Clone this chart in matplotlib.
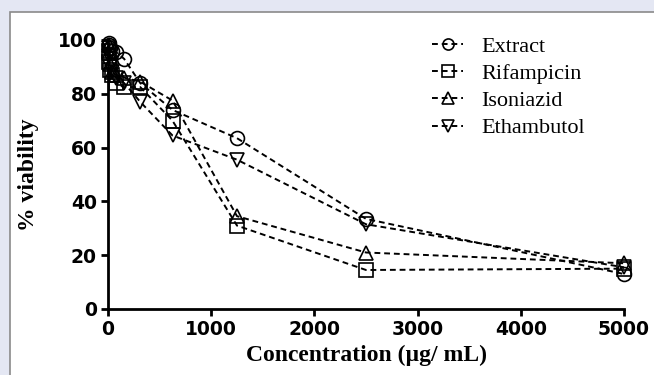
import matplotlib
matplotlib.use("Agg")
import matplotlib.pyplot as plt
from matplotlib.patches import Rectangle

conc = [4.88, 9.77, 19.53, 39.06, 78.13, 156.25, 312.5, 625, 1250, 2500, 5000]
extract = [99, 98, 97, 96, 95.5, 93, 84, 74, 63.5, 33.5, 13]
rifampicin = [96, 92, 89, 87, 84, 82.5, 82.5, 70, 31, 14.5, 15]
isoniazid = [98, 95, 91, 88, 87, 86, 84.5, 77.5, 34.5, 21, 17]
ethambutol = [97, 94, 90, 88, 86, 84, 77, 64.5, 55.5, 31.5, 15.5]
series_names = ["Extract", "Rifampicin", "Isoniazid", "Ethambutol"]
markers = ["o", "s", "^", "v"]
xticks = [0, 1000, 2000, 3000, 4000, 5000]
yticks = [0, 20, 40, 60, 80, 100]

W, H = 654, 375
fig = plt.figure(figsize=(W / 100, H / 100), dpi=100)
fig.patch.set_facecolor("#e4e7f3")
fig.patches.append(Rectangle((10 / W, -0.01), 1.0, 1 - 12 / H + 0.01,
                             transform=fig.transFigure, facecolor="white",
                             edgecolor="#8a8a8a", linewidth=1.2, zorder=-5))

ax = fig.add_axes([108 / W, 1 - 309 / H, (624 - 108) / W, (309 - 40) / H])
ax.set_zorder(2)
ax.set_facecolor("none")

for vals, name, mk in zip([extract, rifampicin, isoniazid, ethambutol], series_names, markers):
    ax.plot(conc, vals, linestyle=(0, (3, 2)), color="black", linewidth=1.4,
            marker=mk, markersize=10, markerfacecolor="none",
            markeredgecolor="black", markeredgewidth=1.2, label=name, clip_on=False)

ax.set_xlim(0, 5000)
ax.set_ylim(0, 100)
ax.set_xticks(xticks)
ax.set_yticks(yticks)
for s in ["top", "right"]:
    ax.spines[s].set_visible(False)
for s in ["left", "bottom"]:
    ax.spines[s].set_linewidth(2.0)
ax.tick_params(direction="out", length=5, width=2.0, pad=3)
for lab in ax.get_xticklabels() + ax.get_yticklabels():
    lab.set_fontfamily("DejaVu Sans")
    lab.set_fontweight("bold")
    lab.set_fontsize(13.5)

ax.set_xlabel("Concentration (µg/ mL)", fontfamily="Liberation Serif",
              fontweight="bold", fontsize=17, labelpad=4)
ax.set_ylabel("% viability", fontfamily="Liberation Serif",
              fontweight="bold", fontsize=17, labelpad=14)

leg = ax.legend(loc="upper left", bbox_to_anchor=(421 / W, 1 - 25 / H),
                bbox_transform=fig.transFigure, frameon=False,
                prop={"family": "Liberation Serif", "size": 16},
                handlelength=1.4, handletextpad=0.8, labelspacing=0.3,
                borderpad=0, markerscale=0.8)

fig.savefig("out.png", dpi=100, facecolor=fig.get_facecolor())
